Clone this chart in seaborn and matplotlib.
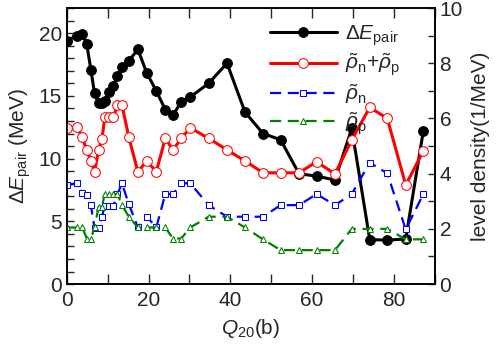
import numpy as np
import pandas as pd
import matplotlib
matplotlib.use('Agg')
import matplotlib.pyplot as plt
import matplotlib.ticker as ticker
import seaborn as sns

# Q20 grid (b)
q20 = [0, 2.5, 3.8, 4.9, 5.9, 6.8, 7.8, 8.6, 9.3, 10.4, 11.4, 12.4, 13.5, 15.2, 17.4,
       19.6, 21.9, 24.1, 26.0, 28.0, 30.2, 34.7, 39.2, 43.6, 48.0, 52.3, 56.8, 61.1,
       65.6, 69.7, 74.1, 78.4, 82.9, 87.2]

# pairing energy (MeV), left axis
e_pair = [19.4, 19.8, 19.9, 19.1, 17.1, 15.2, 14.4, 14.4, 14.6, 15.3, 15.8, 16.6, 17.3,
          17.8, 18.7, 16.8, 15.4, 13.9, 13.5, 14.5, 14.9, 16.0, 17.6, 13.7, 12.0, 11.5,
          8.8, 8.6, 8.3, 12.4, 3.55, 3.5, 3.6, 12.2]

# level densities (1/MeV), right axis
rho_sum = [5.64, 5.70, 5.31, 4.86, 4.46, 4.07, 4.86, 5.24, 6.04, 6.04, 6.04, 6.49, 6.49,
           5.31, 4.07, 4.46, 4.07, 5.28, 4.86, 5.28, 5.66, 5.28, 4.86, 4.46, 4.03, 4.03,
           4.03, 4.43, 3.99, 5.22, 6.40, 6.00, 3.59, 4.82]
rho_n = [3.60, 3.65, 3.29, 3.22, 2.85, 2.04, 2.04, 2.44, 2.83, 2.83, 2.83, 3.26, 3.65,
         2.89, 2.05, 2.44, 2.05, 3.26, 3.26, 3.65, 3.65, 2.86, 2.44, 2.44, 2.44, 2.86,
         2.86, 3.26, 2.86, 3.26, 4.40, 4.01, 1.98, 3.26]
rho_p = [2.05, 2.05, 2.05, 1.65, 1.65, 2.05, 2.80, 2.80, 3.26, 3.26, 3.26, 3.26, 2.86,
         2.44, 2.05, 2.05, 2.05, 2.05, 1.65, 1.65, 2.05, 2.44, 2.44, 2.05, 1.62, 1.23,
         1.23, 1.23, 1.23, 2.00, 2.00, 2.00, 1.62, 1.62]

df = pd.DataFrame({'q': q20, 'e': e_pair, 'sum': rho_sum, 'n': rho_n, 'p': rho_p})

sns.set_style('ticks')
plt.rcParams['font.family'] = ['Liberation Sans', 'DejaVu Sans']
plt.rcParams['mathtext.fontset'] = 'custom'
plt.rcParams['mathtext.rm'] = 'Liberation Sans'
plt.rcParams['mathtext.it'] = 'Liberation Sans:italic'
plt.rcParams['font.size'] = 15

fig = plt.figure(figsize=(4.98, 3.49), dpi=100)
ax = fig.add_axes([0.134, 0.186, 0.739, 0.791])
ax2 = ax.twinx()

sns.lineplot(data=df, x='q', y='e', ax=ax, color='black', lw=2.2, marker='o',
             markersize=7, markeredgecolor='black', sort=False,
             label=r'$\Delta E_{\rm pair}$', legend=False)
sns.lineplot(data=df, x='q', y='sum', ax=ax2, color='red', lw=2.2, marker='o',
             markersize=7, markerfacecolor='white', markeredgecolor='red', sort=False,
             label=r'$\tilde{\rho}_{\rm n}$+$\tilde{\rho}_{\rm p}$', legend=False)
sns.lineplot(data=df, x='q', y='n', ax=ax2, color='blue', lw=1.6, marker='s',
             markersize=4, markerfacecolor='white', markeredgecolor='blue', sort=False,
             dashes=(5, 3), label=r'$\tilde{\rho}_{\rm n}$', legend=False)
sns.lineplot(data=df, x='q', y='p', ax=ax2, color='green', lw=1.6, marker='^',
             markersize=5, markerfacecolor='white', markeredgecolor='green', sort=False,
             dashes=(5, 3), label=r'$\tilde{\rho}_{\rm p}$', legend=False)

ax.set_xlim(0, 90)
ax.set_ylim(0, 22)
ax2.set_ylim(0, 10)
ax.xaxis.set_major_locator(ticker.MultipleLocator(20))
ax.xaxis.set_minor_locator(ticker.MultipleLocator(10))
ax.yaxis.set_major_locator(ticker.MultipleLocator(5))
ax.yaxis.set_minor_locator(ticker.MultipleLocator(1))
ax2.yaxis.set_major_locator(ticker.MultipleLocator(2))
ax2.yaxis.set_minor_locator(ticker.MultipleLocator(1))

ax.tick_params(axis='x', which='both', direction='in', top=True, length=7, width=1,
               labelsize=15, pad=5)
ax.tick_params(axis='y', which='both', direction='in', right=False, length=5, width=1,
               labelsize=15)
ax2.tick_params(axis='y', which='both', direction='in', length=5, width=1, labelsize=15)
for a in (ax, ax2):
    for s in a.spines.values():
        s.set_linewidth(1.2)
        s.set_color('black')

ax.set_xlabel(r'$Q_{\rm 20}$(b)', fontsize=15, labelpad=5)
ax.set_ylabel(r'$\Delta E_{\rm pair}$ (MeV)', fontsize=15, labelpad=4)
ax2.set_ylabel('level density(1/MeV)', fontsize=15, labelpad=6)

h1, l1 = ax.get_legend_handles_labels()
h2, l2 = ax2.get_legend_handles_labels()
ax2.legend(h1 + h2, l1 + l2, loc='upper left', bbox_to_anchor=(0.552, 0.945),
           frameon=False, handlelength=3.2, labelspacing=0.2, fontsize=15,
           borderaxespad=0.0, borderpad=0.0, handletextpad=0.4)

fig.savefig('out.png', dpi=100)
